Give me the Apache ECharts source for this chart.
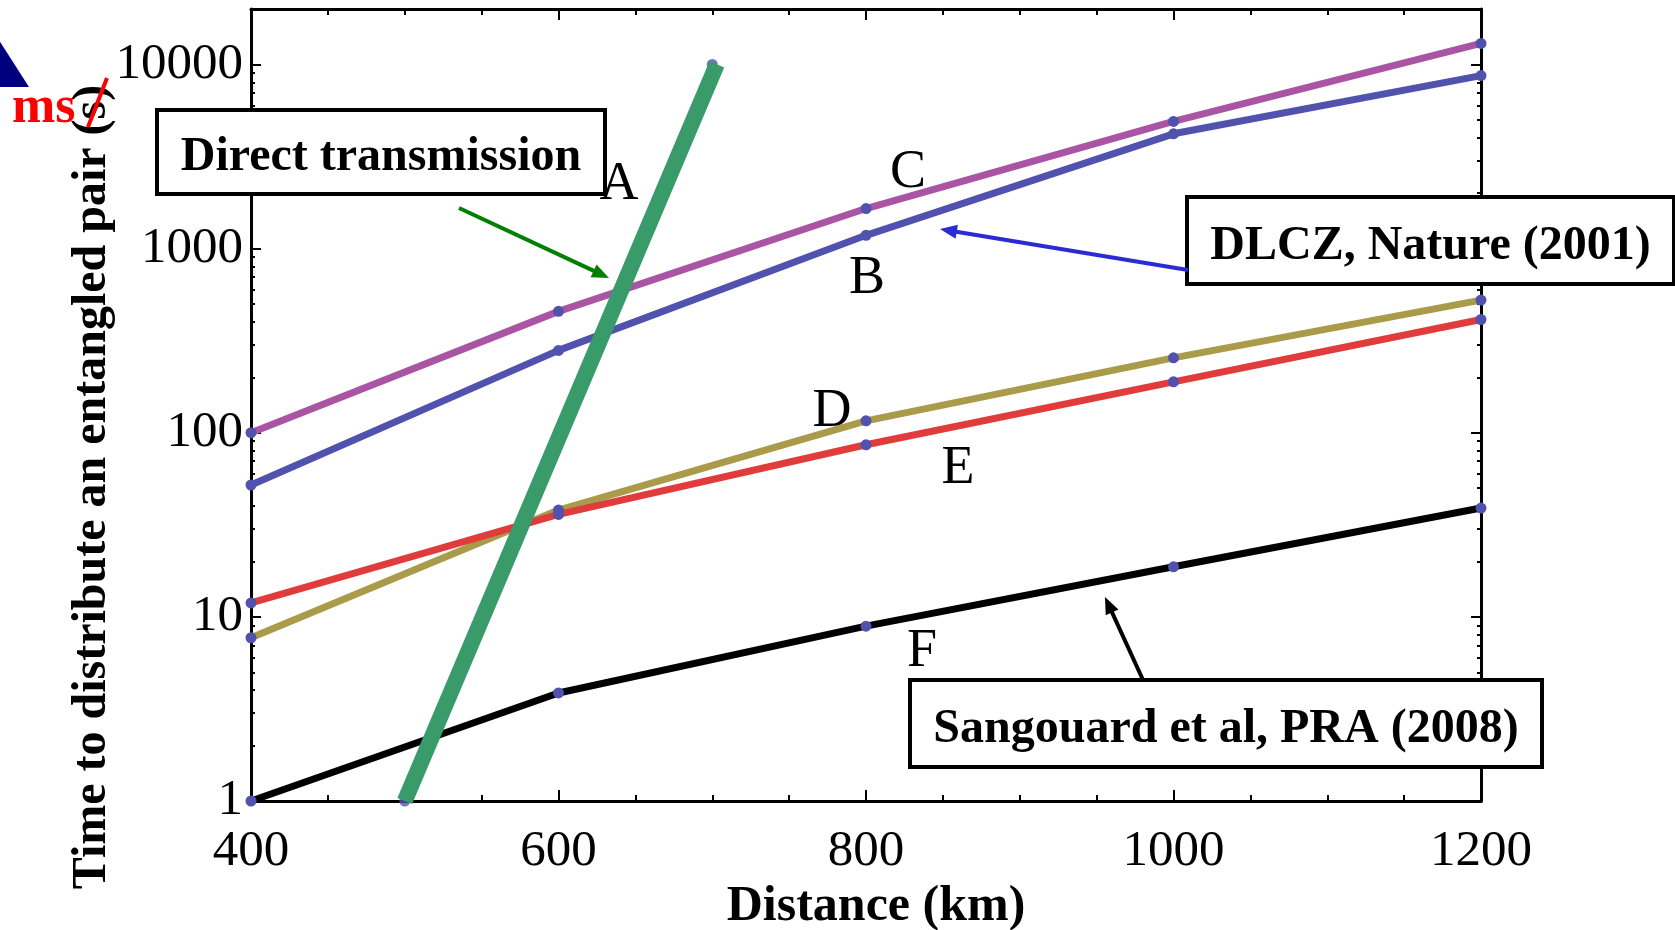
<!DOCTYPE html>
<html><head><meta charset="utf-8">
<script src="https://cdn.jsdelivr.net/npm/echarts@6/dist/echarts.min.js"></script>
<style>html,body{margin:0;padding:0;background:#fff}#chart{width:1675px;height:930px}</style>
</head><body><div id="chart"></div>
<script>
// ---- data ----
const distanceKm = [400, 600, 800, 1000, 1200];
const curveC = [100, 456, 1650, 4900, 13000];
const curveB = [52, 280, 1180, 4200, 8700];
const curveD = [7.7, 38, 116, 255, 525];
const curveE = [11.9, 36, 86, 189, 412];
const curveF = [1, 3.86, 8.9, 18.7, 39];
const directDotKm = [500, 600, 700];
const directDotTime = [1, 100, 10000];
const directLineKm = [500, 703];
const directLineTime = [1, 10000];
const xTickLabels = [400, 600, 800, 1000, 1200];
const yTickLabels = [1, 10, 100, 1000, 10000];
const yMinorTicks = [2,3,4,5,6,7,8,9,20,30,40,50,60,70,80,90,200,300,400,500,600,700,800,900,2000,3000,4000,5000,6000,7000,8000,9000];

const SERIF = "'Liberation Serif', 'Times New Roman', serif";
const DOT = '#5052AE';

function pairs(xs, ys) { return xs.map((x, i) => [x, ys[i]]); }

function arrow(x1, y1, x2, y2, color, w, hl, hw) {
  const dx = x2 - x1, dy = y2 - y1, L = Math.hypot(dx, dy);
  const ux = dx / L, uy = dy / L, px = -uy, py = ux;
  const bx = x2 - ux * hl, by = y2 - uy * hl;
  return [
    { type: 'line', z: 100, shape: { x1, y1, x2: bx + ux * 2, y2: by + uy * 2 }, style: { stroke: color, lineWidth: w } },
    { type: 'polygon', z: 100, shape: { points: [[x2, y2], [bx + px * hw, by + py * hw], [bx - px * hw, by - py * hw]] }, style: { fill: color } }
  ];
}
function box(x, y, w, h, text) {
  return [
    { type: 'rect', z: 100, shape: { x, y, width: w, height: h }, style: { fill: '#fff', stroke: '#000', lineWidth: 4 } },
    { type: 'text', z: 101, x: x + w / 2, y: y + h / 2 + 6, style: { text, font: 'bold 48px ' + SERIF, fill: '#000', align: 'center', verticalAlign: 'middle' } }
  ];
}
function letter(t, x, y) {
  return { type: 'text', z: 101, x, y: y + 4, style: { text: t, font: '54px ' + SERIF, fill: '#000', align: 'center', verticalAlign: 'middle' } };
}

const chart = echarts.init(document.getElementById('chart'), null, { renderer: 'canvas' });

const axisLineStyle = { show: true, lineStyle: { color: '#000', width: 3 } };
const xCommon = {
  type: 'value', min: 400, max: 1200, interval: 200, splitNumber: 4,
  axisLine: axisLineStyle,
  axisTick: { show: true, inside: true, length: 11, lineStyle: { color: '#000', width: 2 } },
  minorTick: { show: true, splitNumber: 4, length: 6, lineStyle: { color: '#000', width: 2 } },
  splitLine: { show: false }, minorSplitLine: { show: false }
};
const yMajor = (pos, labels) => ({
  type: 'log', logBase: 10, min: 1, max: 20000, position: pos,
  axisLine: axisLineStyle,
  axisTick: { show: true, inside: true, length: 10, customValues: yTickLabels, lineStyle: { color: '#000', width: 2 } },
  axisLabel: labels ? { show: true, customValues: yTickLabels, formatter: v => String(Math.round(v)), fontFamily: SERIF, fontSize: 51, color: '#000', margin: 8, padding: [8, 0, 0, 0] } : { show: false },
  splitLine: { show: false }
});
const yMinor = (pos) => ({
  type: 'log', logBase: 10, min: 1, max: 20000, position: pos,
  axisLine: { show: false },
  axisTick: { show: true, inside: true, length: 4, customValues: yMinorTicks, lineStyle: { color: '#000', width: 2 } },
  axisLabel: { show: false },
  splitLine: { show: false }
});

function lineSeries(name, ys, color) {
  return {
    name, type: 'line', xAxisIndex: 0, yAxisIndex: 0, clip: false,
    data: pairs(distanceKm, ys),
    symbol: 'circle', symbolSize: 11, showSymbol: true,
    itemStyle: { color: DOT },
    lineStyle: { color, width: 7 },
    emphasis: { disabled: true }, animation: false
  };
}

const option = {
  animation: false,
  backgroundColor: '#fff',
  grid: { left: 251, top: 9, width: 1230, height: 792, containLabel: false, outerBoundsMode: 'none' },
  xAxis: [
    Object.assign({}, xCommon, {
      position: 'bottom',
      axisLabel: { show: true, formatter: v => String(v), fontFamily: SERIF, fontSize: 51, color: '#000', margin: 25 },
      name: 'Distance (km)', nameLocation: 'middle', nameGap: 77,
      nameTextStyle: { fontFamily: SERIF, fontWeight: 'bold', fontSize: 50, color: '#000', padding: [0, 0, 0, 20] }
    }),
    Object.assign({}, xCommon, { position: 'top', axisLabel: { show: false } })
  ],
  yAxis: [yMajor('left', true), yMinor('left'), yMajor('right', false), yMinor('right')],
  series: [
    lineSeries('C', curveC, '#A955A3'),
    lineSeries('B', curveB, '#5052AE'),
    lineSeries('D', curveD, '#AA9B4B'),
    lineSeries('E', curveE, '#E03C3C'),
    lineSeries('F', curveF, '#000000'),
    {
      name: 'A points', type: 'scatter', xAxisIndex: 0, yAxisIndex: 0, clip: false,
      data: pairs(directDotKm, directDotTime), symbol: 'circle', symbolSize: 11,
      itemStyle: { color: DOT }, emphasis: { disabled: true }
    },
    {
      name: 'A', type: 'line', xAxisIndex: 0, yAxisIndex: 0, clip: false,
      data: pairs(directLineKm, directLineTime), showSymbol: false, symbol: 'none',
      lineStyle: { color: '#389B69', width: 16, cap: 'butt' }, emphasis: { disabled: true }
    }
  ],
  graphic: [
    { type: 'polygon', z: 100, shape: { points: [[-10, 26], [29, 87], [-10, 87]] }, style: { fill: '#00007F' } },
    { type: 'text', z: 100, x: 93, y: 487, rotation: Math.PI / 2,
      style: { text: 'Time to distribute an entangled pair (s)', font: 'bold 48px ' + SERIF, fill: '#000', align: 'center', verticalAlign: 'middle' } },
    { type: 'text', z: 101, x: 12, y: 109, style: { text: 'ms', font: 'bold 52px ' + SERIF, fill: '#FF0000', align: 'left', verticalAlign: 'middle' } },
    { type: 'line', z: 102, shape: { x1: 88, y1: 127, x2: 107, y2: 78 }, style: { stroke: '#FF0000', lineWidth: 4 } },
    ...box(157, 110, 448, 84, 'Direct transmission'),
    ...box(1187, 197, 487, 87, 'DLCZ, Nature (2001)'),
    ...box(910, 680, 632, 87, 'Sangouard et al, PRA (2008)'),
    ...arrow(459, 208, 609, 278, '#008000', 4, 17, 7),
    ...arrow(1188, 270, 940, 229, '#2B2BD6', 4, 17, 7),
    ...arrow(1143, 680, 1105, 597, '#000000', 4, 17, 7),
    letter('A', 619, 181),
    letter('B', 867, 275),
    letter('C', 908, 169),
    letter('D', 832, 408),
    letter('E', 958, 465),
    letter('F', 922, 648)
  ]
};
chart.setOption(option);
</script>
</body></html>
